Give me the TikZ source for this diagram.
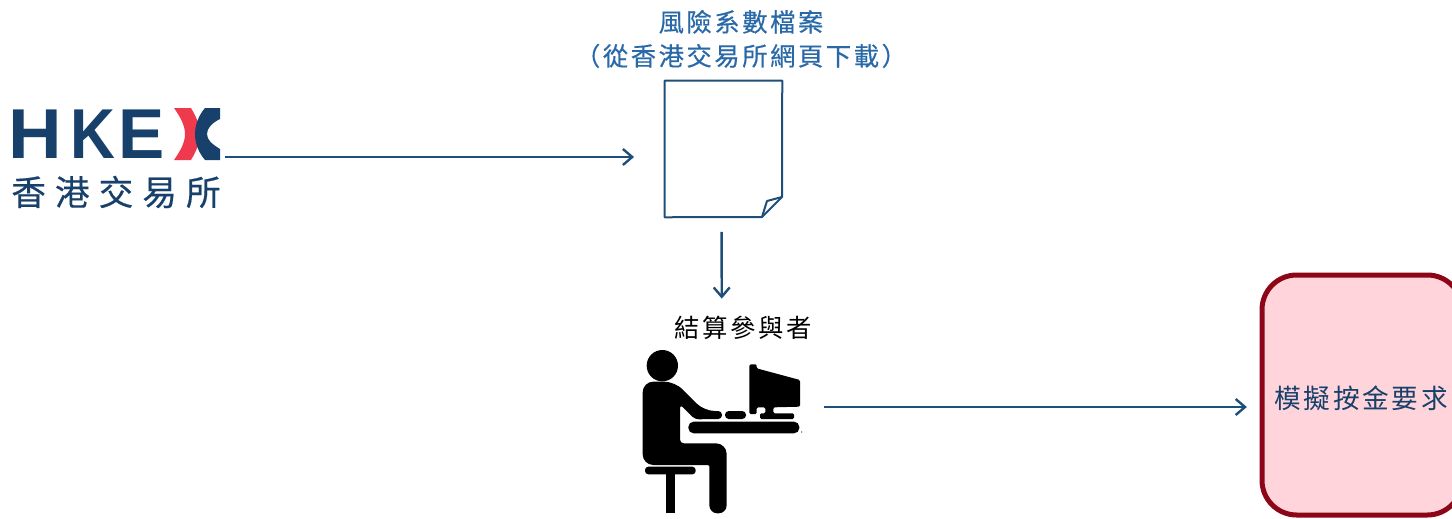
\documentclass[tikz,border=0pt]{standalone}
\usepackage{fontspec}
\usetikzlibrary{arrows.meta}
\newfontfamily\cjkfont{Noto Sans CJK TC}
\newfontfamily\logofont{Liberation Sans}
\definecolor{hkexnavy}{HTML}{17406B}
\definecolor{hkexred}{HTML}{EE3A4C}
\definecolor{flowblue}{HTML}{1F4E79}
\definecolor{titleblue}{HTML}{2A69A8}
\definecolor{boxred}{HTML}{8C0618}
\definecolor{boxpink}{HTML}{FFD5DB}
\tikzset{flowline/.style = {draw=flowblue, line width=1.8pt,
                            -{Straight Barb[length=7pt, width=12pt, line width=1.8pt]}}}
\tikzset{pagenode/.style = {minimum width=87.75pt, minimum height=102pt, inner sep=0pt}}
\tikzset{logoletter/.style = {text=hkexnavy, inner sep=0pt,
                              font=\logofont\bfseries\fontsize{53}{53}\selectfont}}
\tikzset{cjklabel/.style = {inner sep=2pt, align=center,
                            font=\cjkfont\addfontfeature{LetterSpace=10}\fontsize{19}{25.5}\selectfont}}
\begin{document}
\begin{tikzpicture}[x=0.75pt, y=-0.75pt]
      \useasboundingbox (0, 0) rectangle (1452, 518);

      \node [logoletter, xscale=1.05] (letterh) at (35, 134) {H};
      \node [logoletter, xscale=0.88] (letterk) at (93, 134) {K};
      \node [logoletter, xscale=0.98] (lettere) at (142, 134) {E};
      \fill [hkexred] (174, 108) -- (191, 108) .. controls (197, 118) and (200, 126) .. (200, 134)
            .. controls (200, 142) and (197, 150) .. (191, 160) -- (174, 160)
            .. controls (181, 150) and (185, 142) .. (185, 134) .. controls (185, 126) and (181, 118) .. (174, 108);
      \fill [hkexnavy] (220, 108) -- (205, 108) .. controls (198, 116) and (195, 126) .. (195, 134)
            .. controls (195, 142) and (198, 152) .. (205, 160) -- (220, 160) -- (220, 149)
            .. controls (212, 144) and (207, 140) .. (207, 134) .. controls (207, 128) and (212, 123) .. (220, 119) -- cycle;
      \node [text=hkexnavy, inner sep=0pt,
             font=\cjkfont\addfontfeature{LetterSpace=26,FakeBold=0.4}\fontsize{26}{26}\selectfont] (logotext) at (116, 192) {香港交易所};
      \node [minimum width=159pt, minimum height=78pt, inner sep=0pt] (logobox) at (119, 157) {};

      \node [cjklabel, text=titleblue, font=\cjkfont\addfontfeature{LetterSpace=10,FakeBold=0.4}\fontsize{19}{25.5}\selectfont] (titlelabel) at (741, 39) {風險系數檔案\\（從香港交易所網頁下載）};

      \node [pagenode] (docpage) at (723.5, 149) {};
      \draw [flowblue, line width=1.5pt, line join=round] (docpage.north west) -- (docpage.north east)
            -- (782, 197) -- (762, 217) -- (docpage.south west) -- cycle;
      \draw [flowblue, line width=1.5pt, line join=round] (782, 197) -- (767, 201) -- (762, 217);

      \node [cjklabel, text=black] (memberlabel) at (743, 328) {結算參與者};

      % person at the desk
      \begin{scope}[shift={(620, 300)}, xscale=1/3, yscale=1/3]
        \fill (127, 197) circle [radius=47];
        \fill [rounded corners=8pt] (68, 245) -- (165, 245) -- (252, 333) [rounded corners=2.8pt] -- (306, 333) -- (306, 357)
              -- (225, 358) -- (180, 313) -- (180, 430) [rounded corners=8pt] -- (320, 430) [rounded corners=6pt] -- (320, 640) -- (268, 640)
              [rounded corners=1pt] -- (268, 495) [rounded corners=8pt] -- (68, 495) -- cycle;
        \fill [rounded corners=2.5pt] (75, 500) rectangle (227, 523);
        \fill (137, 515) rectangle (165, 640);
        \fill [rounded corners=4pt] (205, 365) rectangle (538, 400);
        \fill [rounded corners=2.8pt] (315, 333) rectangle (378, 357);
        \fill [rounded corners=1pt] (388, 193) -- (410, 193) -- (410, 205) -- (540, 240) -- (540, 320)
              -- (460, 322) -- (460, 340) -- (522, 340) -- (522, 357) -- (420, 357) -- (420, 340)
              -- (436, 340) -- (436, 322) -- (410, 322) -- (410, 342) -- (388, 342) -- cycle;
        \fill (545, 396) circle [radius=2];
      \end{scope}
      \coordinate (memberout) at (824, 407);

      \node [draw=boxred, fill=boxpink, line width=3.75pt, rounded corners=26pt,
             minimum width=150pt, minimum height=180pt, inner sep=0pt] (marginbox) at (1362, 395) {};
      \node [cjklabel, text=hkexnavy, font=\cjkfont\addfontfeature{LetterSpace=10}\fontsize{20}{25.5}\selectfont] (marginlabel) at (1361, 398) {模擬按金要求};

      \draw [flowline, shorten >=23pt] (logobox.east) -- (docpage.west |- logobox.east);
      \draw [flowline, shorten <=11pt, shorten >=11pt] ([xshift=-1.5pt]docpage.south) -- ([xshift=-15.9pt]memberlabel.north);
      \draw [flowline, shorten >=9.5pt] (memberout) -- (marginbox.west |- memberout);
    \end{tikzpicture}
\end{document}
